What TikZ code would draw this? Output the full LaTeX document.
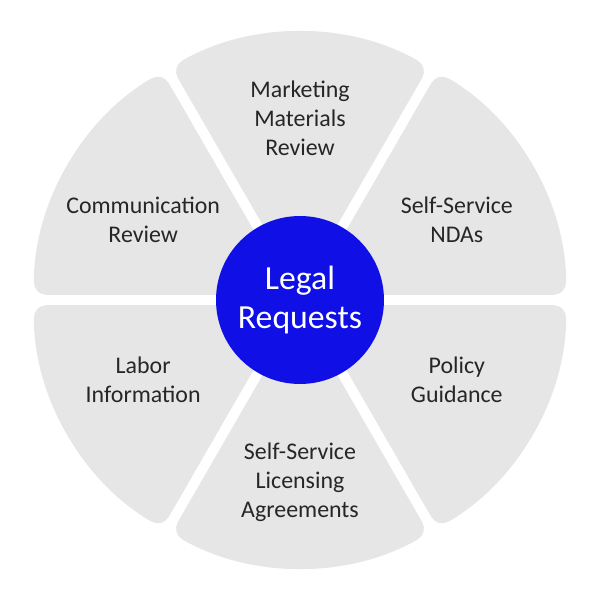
\documentclass[tikz,border=0pt]{standalone}
\usepackage{fontspec}
\setmainfont{Carlito}
\definecolor{segfill}{HTML}{E6E6E6}
\definecolor{hubblue}{HTML}{1010E6}
\begin{document}
\begin{tikzpicture}
	[segment/.style={fill=segfill, rounded corners=9pt},
	label/.style={align=center, font=\fontsize{17}{20.5}\selectfont, text=black!85},
	hub/.style={circle, fill=hubblue, minimum size=4.2cm, text=white, align=center,
		font=\fontsize{24}{28}\selectfont}]
	\useasboundingbox (0,0) rectangle (15,15);
	\coordinate (c) at (7.5,7.5);
	% ring segments
	\begin{scope}[shift={(7.5,7.5)}]
	\foreach \m in {90,30,-30,-90,-150,150}
	{
		\fill[segment] (\m:0.26) -- ++(\m-30:6.43) arc (\m-30:\m+30:6.43) -- cycle;
	}
	\end{scope}
	\node[hub] (hub) at (c) {Legal\\Requests};
	\node[label] (mkt) at ([shift={(90:4.55)}]c) {Marketing\\Materials\\Review};
	\node[label] (nda) at ([shift={(27:4.4)}]c) {Self-Service\\NDAs};
	\node[label] (pol) at ([shift={(-27:4.4)}]c) {Policy\\Guidance};
	\node[label] (lic) at ([shift={(-90:4.55)}]c) {Self-Service\\Licensing\\Agreements};
	\node[label] (lab) at ([shift={(-153:4.4)}]c) {Labor\\Information};
	\node[label] (com) at ([shift={(153:4.4)}]c) {Communication\\Review};
\end{tikzpicture}
\end{document}
